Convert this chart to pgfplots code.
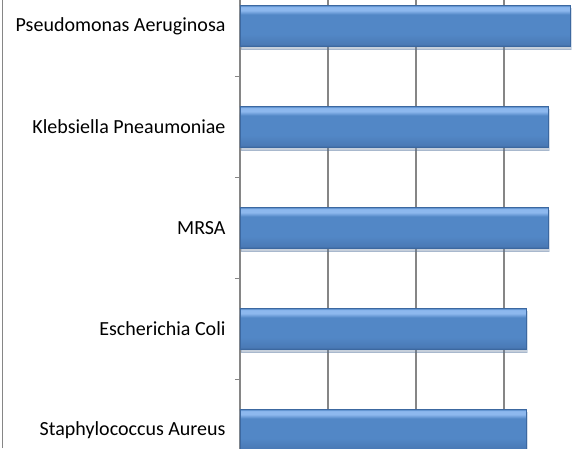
\documentclass[border=0pt]{standalone}
\usepackage{pgfplots}
\pgfplotsset{compat=1.18}
\usepackage{fontspec}
\setmainfont{Carlito}
\usetikzlibrary{shadows}

\definecolor{gridgray}{HTML}{868686}
\definecolor{barlight}{HTML}{8DB8EE}
\definecolor{barmid}{HTML}{5287C6}
\definecolor{barlow}{HTML}{4A7AB6}
\definecolor{bardark}{HTML}{3C68A0}

% excel-like bevel: dark bottom edge, flat body, light band on top
\pgfdeclareverticalshading{barshade}{100bp}{%
  color(0bp)=(bardark); color(25bp)=(bardark); color(28bp)=(barlow);
  color(40bp)=(barmid); color(64bp)=(barmid); color(69bp)=(barlight);
  color(73bp)=(barlight); color(75bp)=(barmid); color(100bp)=(barmid)}

\pgfplotsset{bevelbar/.style={draw=bardark, line width=0.6pt, shading=barshade,
    bar shift=0pt, forget plot,
    drop shadow={opacity=0.2, shadow xshift=1pt, shadow yshift=-3pt}}}

\begin{document}
\begin{tikzpicture}[x=1pt,y=1pt]
\path[use as bounding box, clip] (0,0) rectangle (587,448);
\draw[gridgray, line width=1pt] (2.5,0) -- (2.5,448);
\begin{axis}[
    at={(240pt,-32.5pt)}, anchor=south west,
    scale only axis, width=352pt, height=505pt,
    xbar, bar width=41pt,
    xmin=0, xmax=16, ymin=-0.5, ymax=4.5,
    axis lines=left,
    axis line style={-, gridgray, line width=1.2pt},
    xtick={0,4,8,12,16}, xticklabels={},
    xmajorgrids,
    major grid style={gridgray, line width=1.2pt},
    ytick={0,1,2,3,4},
    yticklabels={Staphylococcus Aureus, Escherichia Coli, MRSA,
                 Klebsiella Pneaumoniae, Pseudomonas Aeruginosa},
    minor ytick={-0.5,0.5,1.5,2.5,3.5,4.5},
    major tick length=0pt, minor tick length=5pt,
    tick align=outside,
    tick style={gridgray, line width=1pt},
    yticklabel style={font=\fontsize{20}{24}\selectfont, xshift=-11pt},
  ]
  % one plot per bar so the bevel shading is applied to each bar
  \addplot[bevelbar] coordinates {(13,0)};
  \addplot[bevelbar] coordinates {(13,1)};
  \addplot[bevelbar] coordinates {(14,2)};
  \addplot[bevelbar] coordinates {(14,3)};
  \addplot[bevelbar] coordinates {(15,4)};
\end{axis}
\end{tikzpicture}
\end{document}
